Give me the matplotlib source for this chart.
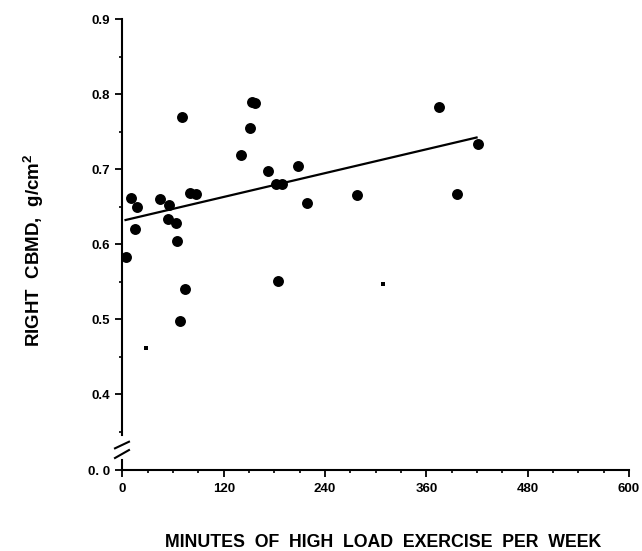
import numpy as np
import matplotlib
matplotlib.use("Agg")
import matplotlib.pyplot as plt
from matplotlib.transforms import blended_transform_factory

plt.rcParams['font.family'] = ['Liberation Sans', 'DejaVu Sans']
plt.rcParams['font.weight'] = 'bold'
plt.rcParams['mathtext.fontset'] = 'custom'
plt.rcParams['mathtext.bf'] = 'Liberation Sans:bold'
plt.rcParams['mathtext.rm'] = 'Liberation Sans:bold'

# Data
minutes = [4.7, 10.3, 17.0, 15.4, 43.9, 55.4, 53.7, 63.2, 64.0, 70.8, 73.9, 67.6,
           79.8, 86.6, 139.9, 151.4, 153.8, 156.9, 172.3, 182.3, 189.4, 207.9,
           183.8, 219.0, 277.5, 374.4, 396.1, 420.6]
cbmd = [0.583, 0.661, 0.649, 0.620, 0.660, 0.652, 0.634, 0.628, 0.604, 0.769, 0.540, 0.497,
        0.668, 0.667, 0.719, 0.755, 0.790, 0.788, 0.698, 0.680, 0.680, 0.704,
        0.551, 0.655, 0.666, 0.783, 0.667, 0.734]
sq_minutes = [27.3, 308.0]
sq_cbmd = [0.461, 0.547]
fit_x = [3.6, 419.4]
fit_y = [0.632, 0.742]

x_ticks = [0, 120, 240, 360, 480, 600]
y_ticks = [0.4, 0.5, 0.6, 0.7, 0.8, 0.9]
y_zero_pos = 0.2987  # position where the broken axis shows 0.0

fig = plt.figure(figsize=(6.42, 5.51), dpi=100)
ax = fig.add_axes([0.1908, 0.147, 0.789, 0.8185])

ax.scatter(minutes, cbmd, s=62, c='black', marker='o', linewidths=0, zorder=3)
ax.scatter(sq_minutes, sq_cbmd, s=9, c='black', marker='s', linewidths=0, zorder=3)
ax.plot(fit_x, fit_y, color='black', lw=1.6, zorder=2)

ax.set_xlim(0, 600)
ax.set_ylim(y_zero_pos, 0.9)

ax.set_xticks(x_ticks)
ax.set_xticklabels([str(v) for v in x_ticks])
ax.set_xticks(np.arange(0, 601, 30), minor=True)
ax.set_yticks([y_zero_pos] + y_ticks)
ax.set_yticklabels(['0. 0'] + [f'{v:.1f}' for v in y_ticks])
ax.set_yticks([0.35, 0.45, 0.55, 0.65, 0.75, 0.85], minor=True)

ax.tick_params(axis='both', which='major', length=5, width=1.3, labelsize=9.5, pad=4)
ax.tick_params(axis='both', which='minor', length=2.5, width=1.2)
for lab in ax.get_xticklabels() + ax.get_yticklabels():
    lab.set_fontweight('bold')

for s in ['top', 'right']:
    ax.spines[s].set_visible(False)
ax.spines['bottom'].set_linewidth(1.5)
ax.spines['left'].set_linewidth(1.5)
ax.spines['left'].set_bounds(0.345, 0.9)

tr = blended_transform_factory(ax.transAxes, ax.transData)
ax.plot([0, 0], [y_zero_pos, 0.312], color='black', lw=1.5, transform=tr, clip_on=False)
ax.plot([-0.0148, 0.0128], [0.3276, 0.3364], color='black', lw=1.5, transform=tr, clip_on=False)
ax.plot([-0.0148, 0.0128], [0.3147, 0.3253], color='black', lw=1.5, transform=tr, clip_on=False)

fig.text(0.597, 0.0163, 'MINUTES  OF  HIGH  LOAD  EXERCISE  PER  WEEK',
         ha='center', va='center', fontsize=12.8, fontweight='bold')
fig.text(0.053, 0.546, r'RIGHT  CBMD,  g/cm$^{\mathbf{2}}$', rotation=90,
         ha='center', va='center', fontsize=13.5, fontweight='bold')

fig.savefig('out.png', dpi=100)
